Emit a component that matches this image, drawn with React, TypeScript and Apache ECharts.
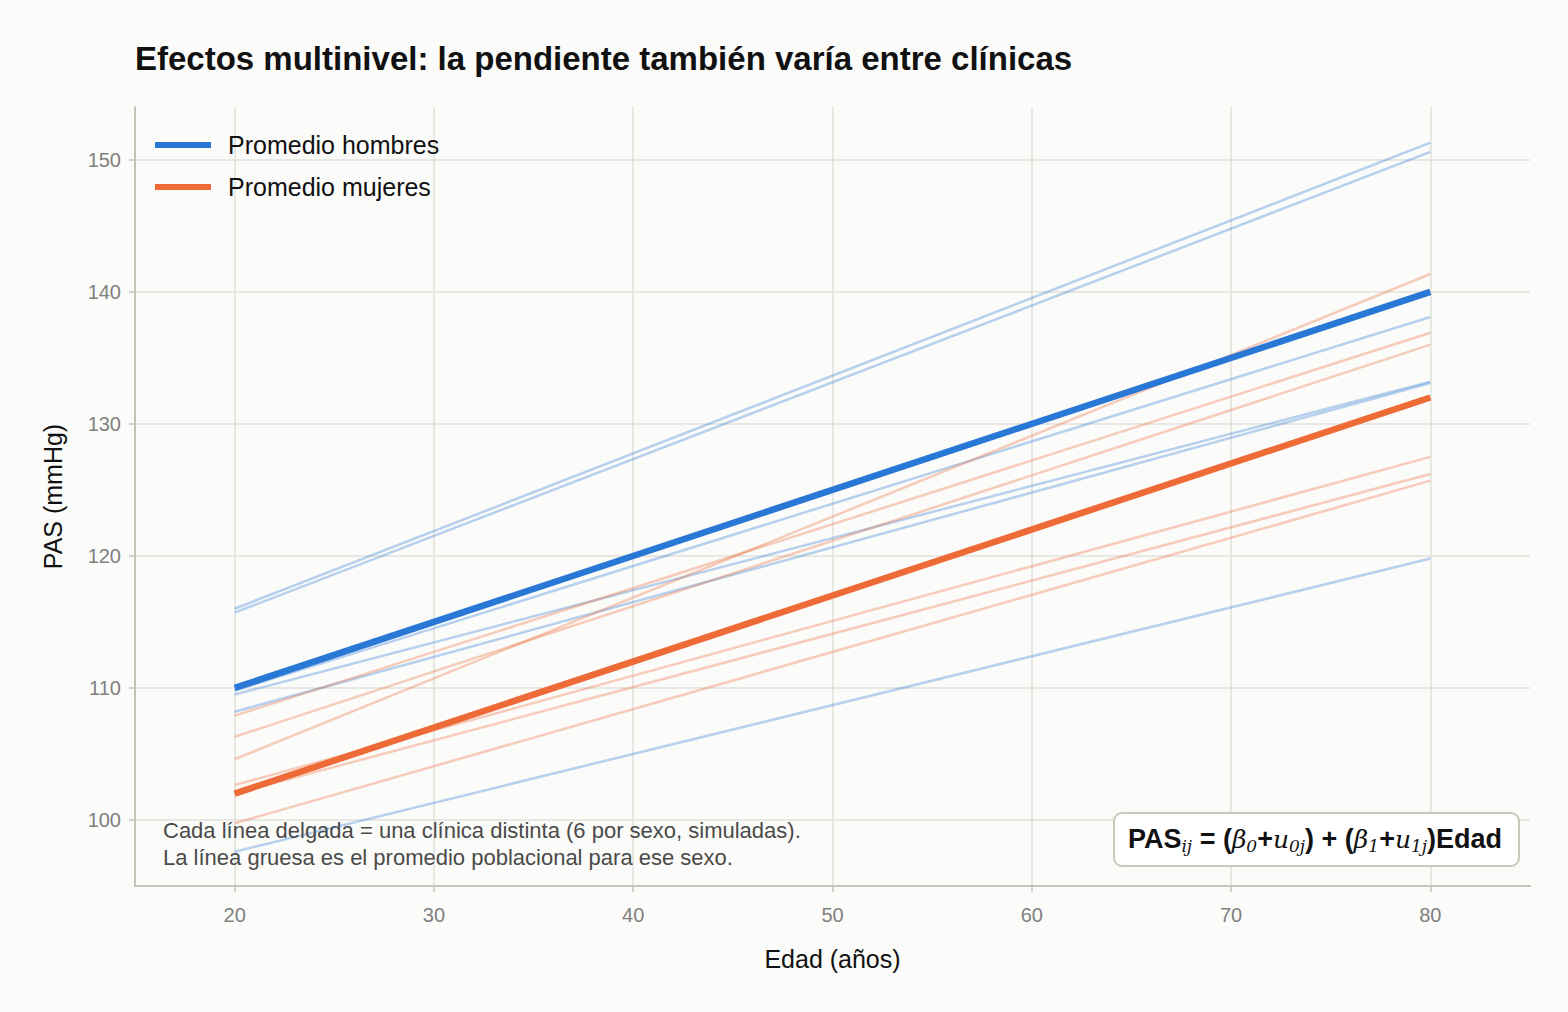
import React, { useEffect, useRef } from "react";
import * as echarts from "echarts";

const ages = [20, 80];
const xTicks = [20, 30, 40, 50, 60, 70, 80];
const yTicks = [100, 110, 120, 130, 140, 150];

const menAvg = [110, 140];
const womenAvg = [102, 132];

const menClinics = [
  [116.0, 151.3],
  [115.7, 150.6],
  [109.8, 138.1],
  [109.5, 133.2],
  [108.2, 133.1],
  [97.6, 119.8],
];
const womenClinics = [
  [104.6, 141.35],
  [107.9, 136.9],
  [106.3, 136.0],
  [102.65, 127.5],
  [102.0, 126.2],
  [99.75, 125.7],
];

const BLUE = "#2A78D6";
const ORANGE = "#EE6A37";
const FONT = "'Liberation Sans', Arial, Helvetica, sans-serif";

const toPts = (vals: number[]) => ages.map((a, i) => [a, vals[i]]);

export default function App() {
  const ref = useRef<HTMLDivElement>(null);
  useEffect(() => {
    document.body.style.margin = "0";
    const chart = echarts.init(ref.current!, undefined, { renderer: "svg" });
    const thin = (vals: number[], color: string, i: number, tag: string) => ({
      type: "line",
      name: tag + i,
      data: toPts(vals),
      showSymbol: false,
      silent: true,
      z: 2,
      lineStyle: { color, width: 2.5, opacity: 0.33 },
      itemStyle: { color },
    });
    const series: any[] = [
      ...menClinics.map((v, i) => thin(v, BLUE, i, "h")),
      ...womenClinics.map((v, i) => thin(v, ORANGE, i, "m")),
      {
        type: "line",
        name: "Promedio hombres",
        data: toPts(menAvg),
        showSymbol: false,
        z: 4,
        lineStyle: { color: BLUE, width: 6.5 },
        itemStyle: { color: BLUE },
      },
      {
        type: "line",
        name: "Promedio mujeres",
        data: toPts(womenAvg),
        showSymbol: false,
        z: 4,
        lineStyle: { color: ORANGE, width: 6.5 },
        itemStyle: { color: ORANGE },
      },
    ];
    const axisCommon = {
      axisLine: { show: true, lineStyle: { color: "#C4C4B8", width: 2 } },
      axisTick: { show: true, length: 6, lineStyle: { color: "#C4C4B8", width: 1.5 } },
      splitLine: { show: true, lineStyle: { color: "#E2E2DB", width: 1.5 } },
    };
    chart.setOption({
      animation: false,
      backgroundColor: "#FBFBF9",
      textStyle: { fontFamily: FONT },
      title: {
        text: "Efectos multinivel: la pendiente también varía entre clínicas",
        left: 130,
        top: 37,
        textStyle: { fontFamily: FONT, fontSize: 33, fontWeight: "bold", color: "#111" },
      },
      grid: { left: 135, right: 38, top: 107, bottom: 126, containLabel: false },
      legend: {
        data: ["Promedio hombres", "Promedio mujeres"],
        orient: "vertical",
        left: 150,
        top: 126,
        icon: "rect",
        itemWidth: 56,
        itemHeight: 6,
        itemGap: 14,
        selectedMode: false,
        textStyle: { fontFamily: FONT, fontSize: 25, color: "#111", padding: [0, 0, 0, 12], lineHeight: 28 },
      },
      xAxis: {
        type: "value",
        min: 15,
        max: 85,
        name: "Edad (años)",
        nameLocation: "middle",
        nameGap: 60,
        nameTextStyle: { fontFamily: FONT, fontSize: 25, color: "#111" },
        ...axisCommon,
        axisTick: { ...axisCommon.axisTick, customValues: xTicks },
        axisLabel: { customValues: xTicks, margin: 19, fontSize: 20, color: "#808080", fontFamily: FONT },
      },
      yAxis: {
        type: "value",
        min: 95,
        max: 154,
        name: "PAS (mmHg)",
        nameLocation: "middle",
        nameGap: 70,
        nameTextStyle: { fontFamily: FONT, fontSize: 25, color: "#111" },
        ...axisCommon,
        axisTick: { ...axisCommon.axisTick, customValues: yTicks },
        axisLabel: { customValues: yTicks, margin: 14, fontSize: 20, color: "#808080", fontFamily: FONT },
      },
      series,
      graphic: [
        {
          type: "text",
          left: 163,
          top: 817,
          z: 10,
          style: {
            text: "Cada línea delgada = una clínica distinta (6 por sexo, simuladas).\nLa línea gruesa es el promedio poblacional para ese sexo.",
            font: `22px ${FONT}`,
            fill: "#4a4a4a",
            lineHeight: 27,
          },
        },
        {
          type: "rect",
          left: 1113,
          top: 812,
          z: 10,
          shape: { width: 405, height: 53, r: 8 },
          style: { fill: "#FFFFFF", stroke: "#C8C8BC", lineWidth: 2 },
        },
        {
          type: "text",
          x: 1315,
          y: 839,
          z: 11,
          style: {
            text:
              "{b|PAS}{s|ij}{b| = (}{m|β}{s|0}{b|+}{m|u}{s|0j}{b|) + (}{m|β}{s|1}{b|+}{m|u}{s|1j}{b|)Edad}",
            align: "center",
            verticalAlign: "middle",
            rich: {
              b: { fontFamily: FONT, fontSize: 27, fontWeight: "bold", fill: "#111", lineHeight: 32 },
              m: { fontFamily: "'DejaVu Serif', serif", fontStyle: "italic", fontSize: 25, fill: "#111", lineHeight: 32 },
              s: { fontFamily: "'DejaVu Serif', serif", fontStyle: "italic", fontSize: 17, fill: "#111", padding: [14, 0, 0, 0], lineHeight: 18 },
            },
          },
        },
      ],
    });
    return () => chart.dispose();
  }, []);
  return <div ref={ref} style={{ width: 1568, height: 1012 }} />;
}
